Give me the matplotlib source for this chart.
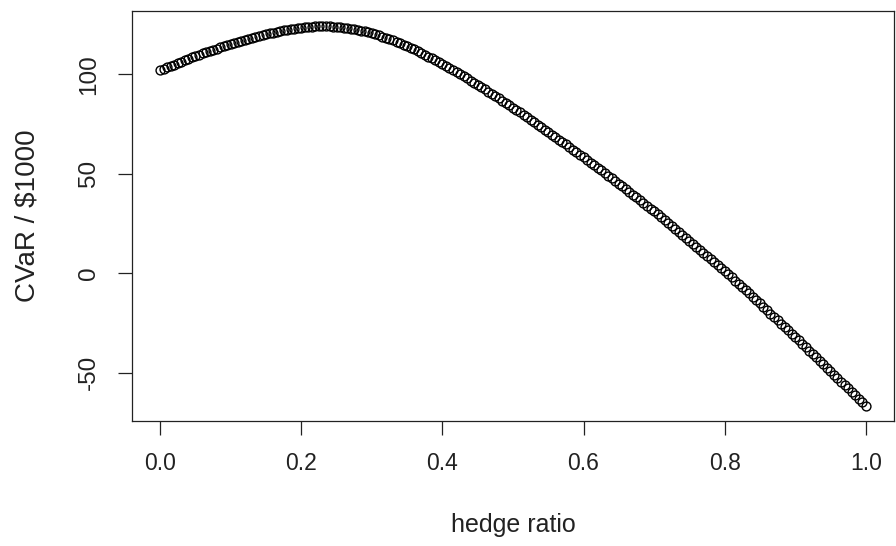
import numpy as np
import matplotlib
matplotlib.use("Agg")
import matplotlib.pyplot as plt

# hedge ratio grid, 0 to 1 by 0.005
hedge_ratio = np.round(np.arange(0, 1.0001, 0.005), 3)

# CVaR per $1000
cvar = [
    102.0, 102.7, 103.5, 104.2, 104.9, 105.7, 106.4, 107.1, 107.8, 108.6,
    109.3, 109.9, 110.5, 111.1, 111.7, 112.3, 112.9, 113.5, 114.1, 114.7,
    115.3, 115.8, 116.3, 116.8, 117.3, 117.7, 118.2, 118.7, 119.2, 119.7,
    120.2, 120.6, 121.0, 121.4, 121.8, 122.1, 122.4, 122.7, 123.0, 123.3,
    123.5, 123.7, 123.9, 124.0, 124.1, 124.2, 124.2, 124.2, 124.1, 124.0,
    123.9, 123.7, 123.5, 123.3, 123.0, 122.7, 122.4, 122.0, 121.6, 121.1,
    120.6, 120.1, 119.6, 119.0, 118.4, 117.7, 117.1, 116.4, 115.6, 114.9,
    114.1, 113.3, 112.5, 111.6, 110.7, 109.8, 108.9, 108.0, 107.1, 106.1,
    105.1, 104.1, 103.1, 102.1, 101.0, 100.0, 99.0, 97.9, 96.8, 95.7,
    94.7, 93.6, 92.4, 91.3, 90.2, 89.1, 87.9, 86.7, 85.6, 84.4,
    83.2, 82.0, 80.8, 79.6, 78.4, 77.2, 75.9, 74.7, 73.5, 72.2,
    71.0, 69.7, 68.5, 67.2, 65.9, 64.7, 63.4, 62.1, 60.8, 59.5,
    58.3, 57.0, 55.6, 54.3, 53.0, 51.7, 50.4, 49.0, 47.7, 46.4,
    45.0, 43.7, 42.3, 40.9, 39.5, 38.1, 36.7, 35.3, 33.9, 32.5,
    31.0, 29.6, 28.1, 26.7, 25.2, 23.7, 22.3, 20.8, 19.3, 17.8,
    16.3, 14.8, 13.3, 11.8, 10.3, 8.8, 7.2, 5.7, 4.2, 2.6,
    1.1, -0.5, -2.1, -3.7, -5.3, -7.0, -8.6, -10.2, -11.9, -13.6,
    -15.2, -16.9, -18.6, -20.3, -22.0, -23.7, -25.4, -27.1, -28.7, -30.4,
    -32.1, -33.8, -35.6, -37.3, -39.0, -40.7, -42.4, -44.2, -45.9, -47.6,
    -49.3, -51.1, -52.8, -54.5, -56.3, -58.0, -59.8, -61.5, -63.2, -65.0,
    -66.7,
]

x_ticks = [0.0, 0.2, 0.4, 0.6, 0.8, 1.0]
x_tick_labels = ["0.0", "0.2", "0.4", "0.6", "0.8", "1.0"]
y_ticks = [-50, 0, 50, 100]
y_tick_labels = ["-50", "0", "50", "100"]

plt.rcParams['font.family'] = ['Liberation Sans', 'DejaVu Sans']

fig = plt.figure(figsize=(8.96, 5.46), dpi=100)
ax = fig.add_axes([0.1473, 0.229, 0.8504, 0.7509])

ax.plot(hedge_ratio, cvar, linestyle='none', marker='o', markersize=6.4,
        markerfacecolor='none', markeredgecolor='black', markeredgewidth=1.0)

# R style axis range: 4% padding on each side
xr = hedge_ratio.max() - hedge_ratio.min()
ax.set_xlim(hedge_ratio.min() - 0.04 * xr, hedge_ratio.max() + 0.04 * xr)
yr = max(cvar) - min(cvar)
ax.set_ylim(min(cvar) - 0.04 * yr, max(cvar) + 0.04 * yr)

ax.set_xticks(x_ticks)
ax.set_xticklabels(x_tick_labels)
ax.set_yticks(y_ticks)
ax.set_yticklabels(y_tick_labels, rotation=90, va='center')
ax.tick_params(direction='out', length=10, width=0.9, colors='#222222', pad=12)
ax.tick_params(axis='x', labelsize=16.5)
ax.tick_params(axis='y', labelsize=17.5, pad=13)

for s in ax.spines.values():
    s.set_color('#222222')
    s.set_linewidth(0.9)

fig.text(0.5725, 0.038, "hedge ratio", ha='center', va='center',
         fontsize=18, color='#222222')
fig.text(0.031, 0.605, "CVaR / $1000", ha='center', va='center',
         rotation=90, fontsize=20, color='#222222')

fig.savefig("out.png", dpi=100)
